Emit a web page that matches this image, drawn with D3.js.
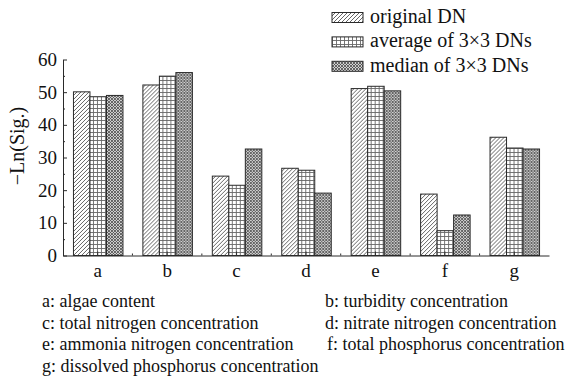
<!DOCTYPE html>
<html>
<head>
<meta charset="utf-8">
<script src="https://cdn.jsdelivr.net/npm/d3@7/dist/d3.min.js"></script>
<style>
  html, body { margin: 0; padding: 0; background: #fff; }
  svg { display: block; }
</style>
</head>
<body>
<svg id="chart" width="571" height="386"></svg>
<script>
// ---- data ----
const categories = ["a", "b", "c", "d", "e", "f", "g"];
const seriesNames = ["original DN", "average of 3\u00d73 DNs", "median of 3\u00d73 DNs"];
const originalDN = [50.1, 52.2, 24.3, 26.7, 51.1, 18.8, 36.2];
const averageDN  = [48.6, 54.9, 21.5, 26.1, 51.8, 7.6, 32.9];
const medianDN   = [49.0, 56.0, 32.6, 19.1, 50.4, 12.4, 32.6];
const yTicks = [0, 10, 20, 30, 40, 50, 60];
const yMinorTicks = [5, 15, 25, 35, 45, 55];
const notesLeft = [
  "a: algae content",
  "c: total nitrogen concentration",
  "e: ammonia nitrogen concentration",
  "g: dissolved phosphorus concentration"
];
const notesRight = [
  "b: turbidity concentration",
  "d: nitrate nitrogen concentration",
  "f: total phosphorus concentration"
];
const yTitle = "\u2212Ln(Sig.)";

const seriesValues = [originalDN, averageDN, medianDN];
const patternIds = ["pat-hatch", "pat-grid", "pat-cross"];
const FONT = "'Liberation Serif', 'Times New Roman', 'DejaVu Serif', serif";

const svg = d3.select("#chart");
const defs = svg.append("defs");

// hatch pattern (////)
const p1 = defs.append("pattern").attr("id", "pat-hatch").attr("patternUnits", "userSpaceOnUse")
  .attr("width", 4).attr("height", 4);
p1.append("rect").attr("width", 4).attr("height", 4).attr("fill", "#fff");
p1.append("path").attr("d", "M-1,1 L1,-1 M0,4 L4,0 M3,5 L5,3").attr("stroke", "#555").attr("stroke-width", 0.9);

// grid pattern
const p2 = defs.append("pattern").attr("id", "pat-grid").attr("patternUnits", "userSpaceOnUse")
  .attr("width", 4).attr("height", 4);
p2.append("rect").attr("width", 4).attr("height", 4).attr("fill", "#fff");
p2.append("path").attr("d", "M0.5,0 L0.5,4 M0,0.5 L4,0.5").attr("stroke", "#666").attr("stroke-width", 0.9);

// cross-hatch pattern
const p3 = defs.append("pattern").attr("id", "pat-cross").attr("patternUnits", "userSpaceOnUse")
  .attr("width", 3).attr("height", 3);
p3.append("rect").attr("width", 3).attr("height", 3).attr("fill", "#d0d0d0");
p3.append("path").attr("d", "M0,3 L3,0 M0,0 L3,3").attr("stroke", "#4a4a4a").attr("stroke-width", 0.8);

// ---- scales ----
const x = d3.scaleBand().domain(categories).range([63, 549]).paddingInner(0.287).paddingOuter(0.1435);
const xs = d3.scaleBand().domain(d3.range(seriesNames.length)).range([0, x.bandwidth()]);
const y = d3.scaleLinear().domain([0, 60]).range([255.5, 59.5]);

// ---- bars ----
const groups = svg.append("g").selectAll("g").data(categories).join("g")
  .attr("transform", d => `translate(${x(d)},0)`);
groups.selectAll("rect")
  .data((d, i) => seriesValues.map((vals, s) => ({ s, v: vals[i] })))
  .join("rect")
  .attr("x", d => xs(d.s) + 0.5)
  .attr("y", d => y(d.v))
  .attr("width", xs.bandwidth())
  .attr("height", d => y(0) - y(d.v))
  .attr("fill", d => `url(#${patternIds[d.s]})`)
  .attr("stroke", "#2a2a2a")
  .attr("stroke-width", 1);

// ---- axes ----
const axisColor = "#2a2a2a";
const yAxis = svg.append("g").attr("transform", "translate(63,0)")
  .call(d3.axisLeft(y).tickValues(yTicks).tickSizeInner(-4).tickSizeOuter(0).tickPadding(6));
yAxis.selectAll("text").style("font-size", "19px");
yAxis.selectAll("line, path").attr("stroke", axisColor);
const yMinor = svg.append("g").attr("transform", "translate(63,0)")
  .call(d3.axisLeft(y).tickValues(yMinorTicks).tickSizeInner(-2).tickSizeOuter(0).tickFormat(""));
yMinor.select("path").remove();
yMinor.selectAll("line").attr("stroke", axisColor);

const xAxis = svg.append("g").attr("transform", `translate(0,${y(0)})`)
  .call(d3.axisBottom(x).tickSizeInner(-4).tickSizeOuter(0).tickPadding(8));
xAxis.selectAll("text").style("font-size", "19px");
xAxis.selectAll("line, path").attr("stroke", axisColor);
// minor ticks at band boundaries
const boundaries = categories.slice(0, -1).map(c => x(c) + x.bandwidth() + x.step() * x.paddingInner() / 2);
svg.append("g").selectAll("line").data(boundaries).join("line")
  .attr("x1", d => d).attr("x2", d => d)
  .attr("y1", y(0)).attr("y2", y(0) - 2)
  .attr("stroke", axisColor);

// y title
svg.append("text")
  .attr("transform", "translate(24,146) rotate(-90)")
  .attr("text-anchor", "middle")
  .style("font-size", "20px")
  .text(yTitle);

// ---- legend ----
const legend = svg.append("g");
seriesNames.forEach((name, i) => {
  const ly = 12.5 + i * 24.4;
  legend.append("rect").attr("x", 332).attr("y", ly).attr("width", 31).attr("height", 10)
    .attr("fill", `url(#${patternIds[i]})`).attr("stroke", "#2a2a2a").attr("stroke-width", 1);
  legend.append("text").attr("x", 370).attr("y", ly + 10.5).style("font-size", "20px").text(name);
});

// ---- notes ----
const notes = svg.append("g");
notesLeft.forEach((t, i) => {
  notes.append("text").attr("x", 42).attr("y", 307 + i * 21.7).style("font-size", "18px").text(t);
});
notesRight.forEach((t, i) => {
  notes.append("text").attr("x", i === 2 ? 327 : 325).attr("y", 307 + i * 21.7).style("font-size", "18px").text(t);
});

svg.selectAll("text").style("font-family", FONT).attr("fill", "#111");
</script>
</body>
</html>
